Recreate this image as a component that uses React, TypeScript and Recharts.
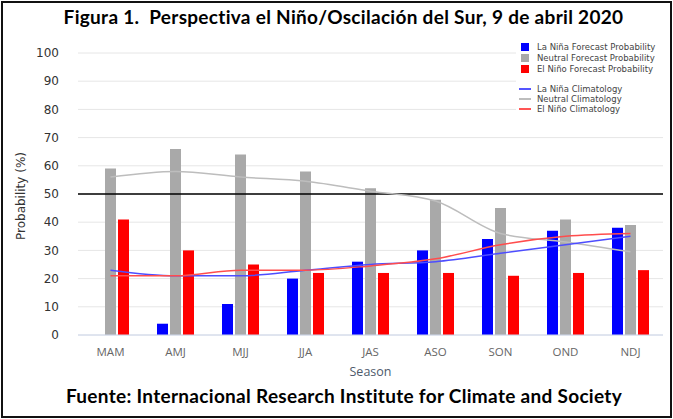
import React from 'react'
import { ComposedChart, Bar, Line, XAxis, YAxis, CartesianGrid, ReferenceLine } from 'recharts'

const seasons = ['MAM', 'AMJ', 'MJJ', 'JJA', 'JAS', 'ASO', 'SON', 'OND', 'NDJ']
const laNinaProb = [0, 4, 11, 20, 26, 30, 34, 37, 38]
const neutralProb = [59, 66, 64, 58, 52, 48, 45, 41, 39]
const elNinoProb = [41, 30, 25, 22, 22, 22, 21, 22, 23]
const laNinaClim = [23, 21, 21, 23, 25, 26, 29, 32, 35]
const neutralClim = [56, 58, 56, 54.5, 51, 47.5, 36, 33, 29.5]
const elNinoClim = [21, 21, 23, 23, 24.5, 27, 32, 35, 36]
const yTicks = [0, 10, 20, 30, 40, 50, 60, 70, 80, 90, 100]

const data = seasons.map((s, i) => ({
  season: s,
  laNina: laNinaProb[i],
  neutral: neutralProb[i],
  elNino: elNinoProb[i],
  laNinaClim: laNinaClim[i],
  neutralClim: neutralClim[i],
  elNinoClim: elNinoClim[i],
}))

const legendItems = [
  { label: 'La Niña Forecast Probability', color: '#0000ff', kind: 'box' },
  { label: 'Neutral Forecast Probability', color: '#a9a9a9', kind: 'box' },
  { label: 'El Niño Forecast Probability', color: '#ff0000', kind: 'box' },
  { label: 'La Niña Climatology', color: '#5555ff', kind: 'line' },
  { label: 'Neutral Climatology', color: '#bdbdbd', kind: 'line' },
  { label: 'El Niño Climatology', color: '#ff5555', kind: 'line' },
]

const chartFont = '"DejaVu Sans", Verdana, sans-serif'
const titleFont = 'Lato, "Open Sans", sans-serif'

const Legend = () => (
  <div style={{ position: 'absolute', left: 516, top: 40, width: 152, height: 74, background: '#fff', fontFamily: chartFont, fontSize: 8.5, color: '#444' }}>
    {legendItems.map((item, i) => {
      const top = i < 3 ? i * 11 + 2 : i * 10 + 14
      return (
        <div key={item.label} style={{ position: 'absolute', left: 0, top, height: 10, display: 'flex', alignItems: 'center', whiteSpace: 'nowrap' }}>
          {item.kind === 'box' ? (
            <span style={{ display: 'inline-block', width: 8, height: 8, marginLeft: 5, marginRight: 8, background: item.color }} />
          ) : (
            <span style={{ display: 'inline-block', width: 12, height: 1.5, marginLeft: 3, marginRight: 6, background: item.color }} />
          )}
          <span>{item.label}</span>
        </div>
      )
    })}
  </div>
)

const App: React.FC = () => {
  return (
    <div style={{ position: 'absolute', left: 0, top: 0, width: 673, height: 419, background: '#fff', overflow: 'hidden' }}>
      <div style={{ position: 'absolute', left: 1, top: 1, width: 667, height: 413, border: '2px solid #111' }} />
      <div style={{ position: 'absolute', left: 0, top: 5, width: 687, textAlign: 'center', fontFamily: titleFont, fontWeight: 700, fontSize: 19, letterSpacing: 0.3, color: '#000' }}>
        Figura 1.&nbsp; Perspectiva el Niño/Oscilación del Sur, 9 de abril 2020
      </div>
      <div style={{ position: 'absolute', left: 0, top: 0 }}>
        <ComposedChart
          width={673}
          height={419}
          data={data}
          margin={{ top: 53, right: 10, left: 18, bottom: 44 }}
          barSize={11}
          barGap={2}
        >
          <CartesianGrid vertical={false} stroke="#e6e6e6" />
          <XAxis
            dataKey="season"
            axisLine={{ stroke: '#ccd6eb' }}
            tickLine={false}
            tickSize={0}
            tickMargin={13}
            height={40}
            tick={{ fill: '#666', fontSize: 11.5, fontFamily: '"Open Sans", sans-serif' }}
          />
          <YAxis
            domain={[0, 100]}
            ticks={yTicks}
            width={60}
            axisLine={false}
            tickLine={false}
            tickSize={0}
            tickMargin={19}
            tick={{ fill: '#333', fontSize: 12, fontFamily: chartFont }}
          />
          <ReferenceLine y={50} stroke="#000" strokeWidth={1.3} />
          <Bar dataKey="laNina" fill="#0000ff" isAnimationActive={false} />
          <Bar dataKey="neutral" fill="#a9a9a9" isAnimationActive={false} />
          <Bar dataKey="elNino" fill="#ff0000" isAnimationActive={false} />
          <Line type="monotone" dataKey="neutralClim" stroke="#bdbdbd" strokeWidth={1.5} dot={false} isAnimationActive={false} />
          <Line type="monotone" dataKey="laNinaClim" stroke="#4d4dff" strokeWidth={1.5} dot={false} isAnimationActive={false} />
          <Line type="monotone" dataKey="elNinoClim" stroke="#ff4d4d" strokeWidth={1.5} dot={false} isAnimationActive={false} />
        </ComposedChart>
      </div>
      <Legend />
      <div style={{ position: 'absolute', left: 12, top: 196, transform: 'translate(-50%, -50%) rotate(-90deg)', transformOrigin: 'center', whiteSpace: 'nowrap', fontFamily: chartFont, fontSize: 12, color: '#333', marginLeft: 9 }}>
        Probability (%)
      </div>
      <div style={{ position: 'absolute', left: 78, width: 585, top: 363, textAlign: 'center', fontFamily: '"Open Sans", sans-serif', fontSize: 12.5, color: '#4d5a6a' }}>
        Season
      </div>
      <div style={{ position: 'absolute', left: 0, top: 384, width: 688, textAlign: 'center', fontFamily: titleFont, fontWeight: 700, fontSize: 19, letterSpacing: 0.3, color: '#000' }}>
        Fuente: Internacional Research Institute for Climate and Society
      </div>
    </div>
  )
}

export default App
